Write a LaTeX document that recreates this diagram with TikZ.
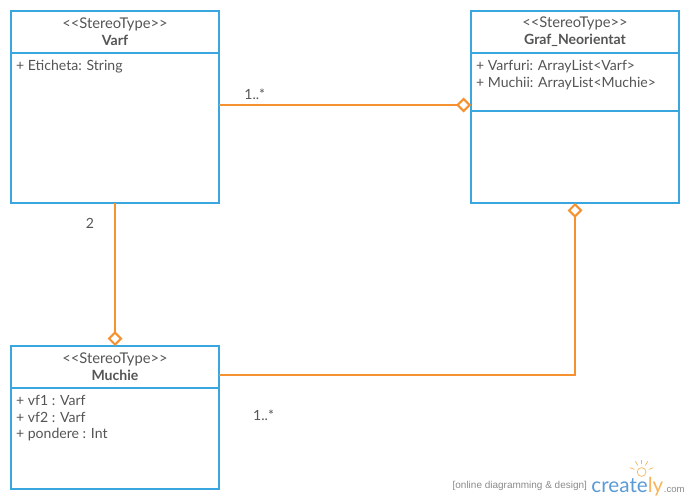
\documentclass[tikz,border=0pt]{standalone}
\usepackage{fontspec}
\setmainfont{Lato}
\newfontfamily\markfont{Liberation Sans}
\usetikzlibrary{positioning,arrows.meta}
\definecolor{boxblue}{HTML}{3AA6DF}
\definecolor{linkorange}{HTML}{F5922F}
\definecolor{textgray}{HTML}{555555}
\definecolor{markgray}{HTML}{8A8A8A}
\definecolor{logoblue}{HTML}{5B9BD5}
\definecolor{logoorange}{HTML}{F7B45C}
\newcommand{\stereotag}{{\fontsize{10.5}{12}\selectfont{<}{<}StereoType{>}{>}}}
\tikzset{
  umlbox/.style={draw=boxblue,line width=1.4pt,fill=white,rectangle,minimum width=5.2cm,outer sep=0pt,inner sep=0pt},
  headbox/.style={umlbox,minimum height=1.05cm,align=center,font=\fontsize{10}{12}\selectfont,text=textgray},
  attrtext/.style={anchor=north west,align=left,inner sep=0pt,font=\fontsize{10}{11.9}\selectfont,text=textgray},
  multlabel/.style={inner sep=0pt,font=\fontsize{10}{12}\selectfont,text=textgray},
  aggregation/.style={draw=linkorange,line width=1.4pt,{Diamond[open,length=10.5pt,width=10.5pt,line width=1.4pt]}-},
}
\begin{document}
\begin{tikzpicture}
  \useasboundingbox (0,0) rectangle (17.25,-12.5);
  \node[headbox,anchor=north west] (varfhead) at (0.275,-0.275) {\stereotag\\\textbf{Varf}};
  \node[umlbox,minimum height=3.75cm,below=0cm of varfhead] (varfbody) {};
  \node[headbox,right=6.3cm of varfhead] (grafhead) {\stereotag\\\textbf{Graf\_Neorientat}};
  \node[umlbox,minimum height=1.45cm,below=0cm of grafhead] (grafattr) {};
  \node[umlbox,minimum height=2.3cm,below=0cm of grafattr] (grafbody) {};
  \node[headbox,below=3.575cm of varfbody] (muchiehead) {\stereotag\\\textbf{Muchie}};
  \node[umlbox,minimum height=2.525cm,below=0cm of muchiehead] (muchiebody) {};
  % attributes
  \node[attrtext] (varftext) at ([xshift=0.12cm,yshift=-0.175cm]varfbody.north west) {+ Eticheta: String};
  \node[attrtext] (graftext) at ([xshift=0.12cm,yshift=-0.175cm]grafattr.north west) {+ Varfuri: ArrayList<Varf>\\+ Muchii: ArrayList<Muchie>};
  \node[attrtext] (muchietext) at ([xshift=0.12cm,yshift=-0.175cm]muchiebody.north west) {+ vf1 : Varf\\+ vf2 : Varf\\+ pondere : Int};
  % links
  \draw[aggregation] (grafattr.south west |- 0,-2.625) -- (varfbody.east |- 0,-2.625);
  \draw[aggregation] (muchiehead.north) -- (varfbody.south);
  \draw[aggregation] (grafbody.south) |- ([yshift=-0.725cm]muchiehead.north east);
  \node[multlabel] (varfmult) at (6.37,-2.36) {1..*};
  \node[multlabel] (varfcount) at (2.25,-5.58) {2};
  \node[multlabel] (muchiemult) at (6.59,-10.38) {1..*};
  % creately mark
  \node[anchor=base east,inner sep=0pt,text=markgray,font=\markfont\fontsize{7.1}{8}\selectfont] (marktext) at (14.68,-12.2) {[online diagramming \& design]};
  \node[anchor=base west,inner sep=0pt,text=logoblue,font=\fontsize{14.7}{18}\selectfont] (logotext) at (14.78,-12.3) {creat\textcolor{logoblue}{e}\textcolor{logoorange}{ly}};
  \node[anchor=base west,inner sep=0pt,text=markgray,font=\markfont\fontsize{6.8}{8}\selectfont] (logocom) at (logotext.base east) {.com};
  \draw[logoorange,line width=0.5pt] (16.04,-11.8) circle (0.11cm);
  \foreach \a in {20,60,90,120,160} {
    \draw[logoorange,line width=0.5pt] (16.04,-11.8) ++(\a:0.19cm) -- ++(\a:0.12cm);
  }
\end{tikzpicture}
\end{document}
